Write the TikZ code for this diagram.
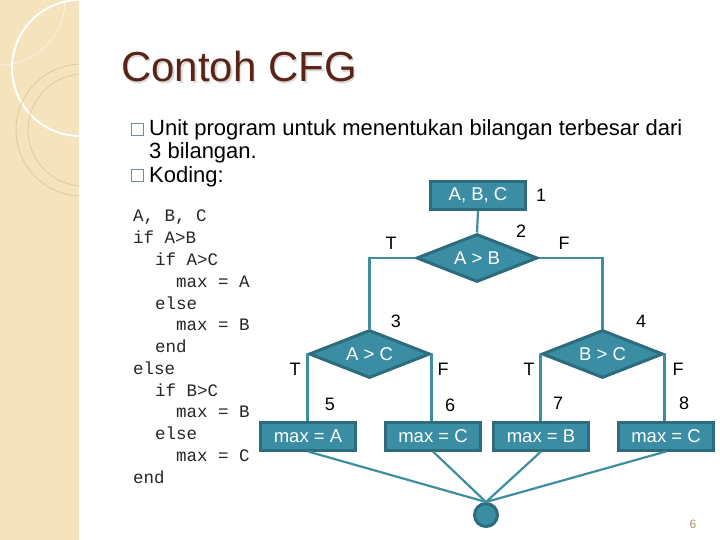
\documentclass[tikz,border=0pt]{standalone}
\usepackage{fontspec}
\setmainfont{Liberation Sans}
\newfontfamily\codefont{Liberation Mono}
\usetikzlibrary{shapes.geometric}
\definecolor{strip}{HTML}{F4E3BD}
\definecolor{stripline}{HTML}{DCC69A}
\definecolor{titlec}{HTML}{5A2418}
\definecolor{tealfill}{HTML}{3A8DA3}
\definecolor{tealdraw}{HTML}{2C6C7C}
\definecolor{tealline}{HTML}{3E8EA2}
\definecolor{bulletc}{HTML}{6C8E96}
\definecolor{pagec}{HTML}{A89070}
\newcommand{\zw}[1]{\makebox[0pt]{#1}}
\begin{document}
\begin{tikzpicture}[x=1pt,y=-1pt,
  box/.style={rectangle, fill=tealfill, draw=tealdraw, line width=3pt, text=white,
    minimum width=95pt, minimum height=28pt, inner sep=0pt, font=\fontsize{18.5}{20}\selectfont},
  dec/.style={diamond, fill=tealfill, draw=tealdraw, line width=3pt, text=white,
    minimum width=121pt, minimum height=48pt, inner sep=0pt, font=\fontsize{18.5}{20}\selectfont},
  sink/.style={circle, fill=tealfill, draw=tealdraw, line width=3pt, minimum size=23pt, inner sep=0pt},
  conn/.style={draw=tealline, line width=2.2pt},
  lab/.style={text=black, inner sep=0pt, font=\fontsize{18}{20}\selectfont},
  code/.style={anchor=base west, inner sep=0pt, text=black!85, font=\codefont\fontsize{17.5}{20}\selectfont},
  bullettext/.style={anchor=base west, inner sep=0pt, text=black, font=\fontsize{22}{26}\selectfont},
  bulletbox/.style={rectangle, draw=bulletc, line width=0.8pt, minimum size=12pt, inner sep=0pt}
]
\useasboundingbox (0,0) rectangle (720,540);
\fill[white] (0,0) rectangle (720,540);
\fill[strip] (0,0) rectangle (79,540);
\begin{scope}
  \clip (0,0) rectangle (79,540);
  \draw[white!60!strip, line width=0.8pt] (0,0) circle[radius=65];
  \draw[white, line width=2pt] (80,68) circle[radius=68];
  \draw[stripline, line width=0.7pt] (82,130) circle[radius=66];
  \draw[stripline, line width=0.7pt] (84,130) circle[radius=56];
\end{scope}

% title
\node[anchor=base west, inner sep=0pt, text=black!15, font=\fontsize{42}{42}\selectfont] (titleshadow) at (122.5,83.5) {Contoh CFG};
\node[anchor=base west, inner sep=0pt, text=titlec, font=\fontsize{42}{42}\selectfont] (title) at (121,82) {Contoh CFG};

% bullets
\node[bulletbox] (bb1) at (137.5,129.5) {};
\node[bullettext] (bt1) at (149,136) {Unit program untuk menentukan bilangan terbesar dari};
\node[bullettext] (bt1b) at (149,159) {3 bilangan.};
\node[bulletbox] (bb2) at (137.5,175.5) {};
\node[bullettext] (bt2) at (149,183) {Koding:};

% code
\node[code] (c1) at (133,222) {A, B, C};
\node[code] (c2) at (133,243.75) {if A>B};
\node[code] (c3) at (155,265.5) {if A>C};
\node[code] (c4) at (176,287.25) {max = A};
\node[code] (c5) at (155,309) {else};
\node[code] (c6) at (176,330.75) {max = B};
\node[code] (c7) at (155,352.5) {end};
\node[code] (c8) at (133,374.25) {else};
\node[code] (c9) at (155,396) {if B>C};
\node[code] (c10) at (176,417.75) {max = B};
\node[code] (c11) at (155,439.5) {else};
\node[code] (c12) at (176,461.25) {max = C};
\node[code] (c13) at (133,483) {end};

% flow graph nodes
\node[box] (n1) at (478,195.5) {A, B, C};
\node[dec] (d2) at (477,258) {\zw{A > B}};
\node[dec] (d3) at (369.5,354) {\zw{A > C}};
\node[dec] (d4) at (602.5,354) {\zw{B > C}};
\node[box] (b5) at (308,436) {max = A};
\node[box] (b6) at (433,436) {max = C};
\node[box] (b7) at (541,436) {max = B};
\node[box] (b8) at (666,436) {max = C};
\node[sink] (e) at (486,515) {};

% connectors
\path[conn] (n1.south) -- (d2.north);
\path[conn] (d2.west) -| (d3.north);
\path[conn] (d2.east) -| (d4.north);
\path[conn] (d3.west) -- (d3.west |- b5.north);
\path[conn] (d3.east) -- (d3.east |- b6.north);
\path[conn] (d4.west) -- (d4.west |- b7.north);
\path[conn] (d4.east) -- (d4.east |- b8.north);
\path[conn] (b5.south) -- (e.north);
\path[conn] (b6.south) -- (e.north);
\path[conn] (b7.south) -- (e.north);
\path[conn] (b8.south) -- (e.north);

% labels
\node[lab] (l1) at (541,195) {1};
\node[lab] (l2) at (521,231) {2};
\node[lab] (l2t) at (391,243) {T};
\node[lab] (l2f) at (564,243) {F};
\node[lab] (l3) at (396,321) {3};
\node[lab] (l3t) at (295,369) {T};
\node[lab] (l3f) at (443,369) {F};
\node[lab] (l4) at (641,321) {4};
\node[lab] (l4t) at (529,369) {T};
\node[lab] (l4f) at (678,369) {F};
\node[lab] (l5) at (330,404) {5};
\node[lab] (l6) at (450,405) {6};
\node[lab] (l7) at (558,403) {7};
\node[lab] (l8) at (684,403) {8};

\node[inner sep=0pt, text=pagec, font=\fontsize{12}{14}\selectfont] (pg) at (693,524) {6};
\end{tikzpicture}
\end{document}
